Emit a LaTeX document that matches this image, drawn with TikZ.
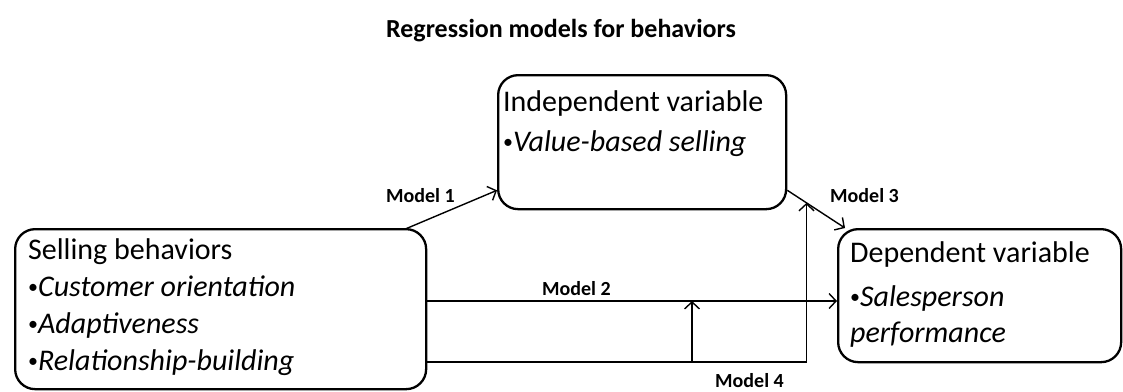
\documentclass[tikz,border=0pt]{standalone}
\usepackage{fontspec}
\setmainfont{Carlito}
\usetikzlibrary{arrows.meta,calc}
\setlength\parindent{0pt}

\tikzset{
  box/.style={draw, line width=2.3pt, rounded corners=20pt, inner sep=0pt, anchor=north west},
  conn/.style={line width=1.4pt, -{Straight Barb[length=7pt,width=15pt]}},
  modellabel/.style={font=\fontsize{20}{24}\selectfont\bfseries, inner sep=0pt, anchor=base west},
  titlefont/.style={font=\fontsize{26}{30}\selectfont\bfseries, inner sep=0pt, anchor=base}
}

% small list bullet
\newcommand{\itembullet}{\raisebox{3pt}{\fontsize{20}{20}\selectfont •}}

% box content: width, height, left offset, top offset, baselineskip, text
\newcommand{\boxtext}[6]{%
  \parbox[c][#2][t]{#1}{\fontsize{30}{#5}\selectfont\vspace*{#4}%
    \leftskip=#3\relax\noindent #6}}

\begin{document}
\begin{tikzpicture}[x=1pt,y=-1pt]
\useasboundingbox (0,0) rectangle (1123,391);

\node[titlefont] (title) at (561,37) {Regression models for behaviors};

% variable boxes
\node[box] (iv) at (497,74) {\boxtext{288pt}{134pt}{5pt}{16pt}{40pt}{%
  Independent variable\\
  \itembullet\textit{Value-based selling}}};

\node[box] (sb) at (14,228) {\boxtext{411pt}{160pt}{13pt}{10pt}{37pt}{%
  Selling behaviors\\
  \itembullet\textit{Customer orientation}\\
  \itembullet\textit{Adaptiveness}\\
  \itembullet\textit{Relationship-building}}};

\node[box] (dv) at (837,228) {\boxtext{283pt}{133pt}{12pt}{13pt}{36pt}{%
  Dependent variable\\[8pt]
  \itembullet\textit{Salesperson}\\
  \textit{performance}}};

% connector end points
\coordinate (m1s) at ($(sb.north east)+(-22,1)$);
\coordinate (m1e) at ($(iv.south west)+(0,-20)$);
\coordinate (m2s) at ($(sb.north east)+(0,73)$);
\coordinate (m2e) at ($(dv.north west)+(0,73)$);
\coordinate (m3s) at ($(iv.south east)+(0,-20)$);
\coordinate (m3e) at ($(dv.north west)+(8,0)$);
\coordinate (m3mid) at ($(m3s)!0.333!(m3e)$);
\coordinate (m4s) at ($(sb.north east)+(0,134)$);
\coordinate (m4tap) at (692,0 |- m4s);
\coordinate (m2tap) at (m4tap |- m2s);

% Model 1
\draw[conn] (m1s) -- (m1e);
% Model 2
\draw[conn] (m2s) -- (m2e);
% Model 3
\draw[conn] (m3s) -- (m3e);
% Model 4: moderation path into Model 3 and Model 2
\draw[conn] (m4s) -| (m3mid);
\draw[conn] (m4tap) -- (m2tap);

% model labels
\node[modellabel] (l1) at (386,202) {Model 1};
\node[modellabel] (l2) at (542,295) {Model 2};
\node[modellabel] (l3) at (830,202) {Model 3};
\node[modellabel] (l4) at (715,387) {Model 4};
\end{tikzpicture}
\end{document}
